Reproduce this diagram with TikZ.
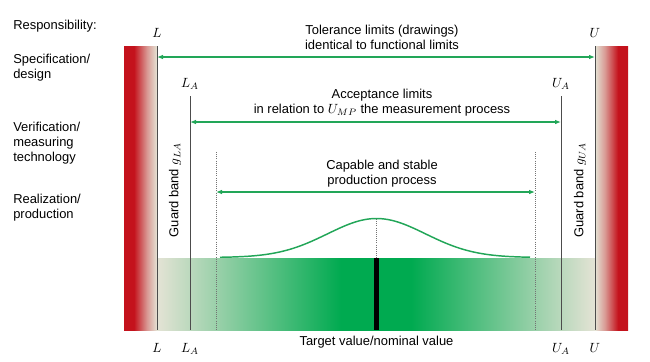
\documentclass[tikz,border=0pt]{standalone}
\usepackage{fontspec}
\setmainfont{Liberation Sans}
\usepackage{tikz}
\usetikzlibrary{arrows.meta,positioning}

\definecolor{limred}{RGB}{196,18,28}
\definecolor{limbeige}{RGB}{228,227,213}
\definecolor{bandgreen}{RGB}{0,170,80}
\definecolor{arrgreen}{RGB}{34,166,88}

\pgfdeclarehorizontalshading{redfade}{100bp}{color(0bp)=(limred); color(25bp)=(limred); color(40bp)=(limred); color(60bp)=(limred!35!limbeige); color(75bp)=(limbeige); color(100bp)=(limbeige)}
\pgfdeclarehorizontalshading{bandfade}{100bp}{color(0bp)=(limbeige); color(25bp)=(limbeige); color(46bp)=(bandgreen); color(54bp)=(bandgreen); color(75bp)=(limbeige); color(100bp)=(limbeige)}

\begin{document}
\begin{tikzpicture}[x=0.75pt,y=-0.75pt]
  \tikzset{
    every node/.style={font=\fontsize{9.7}{11.2}\selectfont},
    limline/.style={draw=black!70, line width=0.6pt},
    capline/.style={draw=black!55, densely dotted, line width=0.6pt},
    dimarrow/.style={draw=arrgreen, line width=0.9pt, {Latex[length=4.5pt,width=3.5pt]}-{Latex[length=4.5pt,width=3.5pt]}},
    rowlabel/.style={anchor=west, align=left, inner sep=0pt},
    midtext/.style={align=center, inner sep=0pt},
    guard/.style={rotate=90, inner sep=0pt},
  }
  \useasboundingbox (0,0) rectangle (650,361);

  % limits
  \coordinate (Ltop) at (157,46);   \coordinate (Lbot) at (157,330);
  \coordinate (Utop) at (595,46);   \coordinate (Ubot) at (595,330);
  \coordinate (LAtop) at (190,96);  \coordinate (LAbot) at (190,330);
  \coordinate (UAtop) at (561,96);  \coordinate (UAbot) at (561,330);
  \coordinate (PLtop) at (216,152); \coordinate (PLbot) at (216,330);
  \coordinate (PUtop) at (535,152); \coordinate (PUbot) at (535,330);
  \coordinate (peak) at (376.5,219); \coordinate (target) at (376.5,258);

  % red and green areas
  \shade[shading=redfade] (124,46) rectangle (Lbot);
  \shade[shading=redfade, shading angle=180] (Utop) rectangle (628,330);
  \shade[shading=bandfade] (157,258) rectangle (Ubot);
  \fill[black] (374,258) rectangle (379,330);

  \draw[limline] (Ltop) -- (Lbot);
  \draw[limline] (Utop) -- (Ubot);
  \draw[limline] (LAtop) -- (LAbot);
  \draw[limline] (UAtop) -- (UAbot);
  \draw[capline] (PLtop) -- (PLbot);
  \draw[capline] (PUtop) -- (PUbot);
  \draw[capline] (peak) -- (target);

  % process curve
  \draw[arrgreen, line width=1.1pt] plot[domain=220:530, samples=90]
    (\x,{257.5-39*exp(-0.5*((\x-376.5)/49)^2)});

  % responsibility column
  \node[rowlabel] (resp) at (13,26) {Responsibility:};
  \node[rowlabel] (spec) at (13,68) {Specification/\\design};
  \node[rowlabel] (verif) at (13,143) {Verification/\\measuring\\technology};
  \node[rowlabel] (real) at (13,208) {Realization/\\production};

  % limit labels
  \node[above=3pt of Ltop] (Ltxt) {$L$};
  \node[above=3pt of Utop] (Utxt) {$U$};
  \node[above=1pt of LAtop] (LAtxt) {$L_A$};
  \node[above=1pt of UAtop] (UAtxt) {$U_A$};
  \node[below=6.5pt of Lbot, anchor=north] (Lbtxt) {$L$};
  \node[below=6.5pt of Ubot, anchor=north] (Ubtxt) {$U$};
  \node[below=6.5pt of LAbot, anchor=north] (LAbtxt) {$L_A$};
  \node[below=6.5pt of UAbot, anchor=north] (UAbtxt) {$U_A$};

  % dimension arrows
  \coordinate (tolL) at (157,57);  \coordinate (tolU) at (595,57);
  \coordinate (accL) at (190,122); \coordinate (accU) at (561,122);
  \coordinate (capL) at (216,192); \coordinate (capU) at (535,192);
  \draw[dimarrow] (tolL) -- (tolU);
  \draw[dimarrow] (accL) -- (accU);
  \draw[dimarrow] (capL) -- (capU);

  \node[midtext] (tol) at (382,37.5) {Tolerance limits (drawings)\\identical to functional limits};
  \node[midtext] (acc) at (382,102.5) {Acceptance limits\\in relation to $U_{MP}$ the measurement process};
  \node[midtext] (cap) at (382,173.5) {Capable and stable\\production process};
  \node[midtext] (tgt) at (376.5,342) {Target value/nominal value};

  \node[guard] (gL) at (175,190) {Guard band $g_{LA}$};
  \node[guard] (gU) at (580,190) {Guard band $g_{UA}$};
\end{tikzpicture}
\end{document}
